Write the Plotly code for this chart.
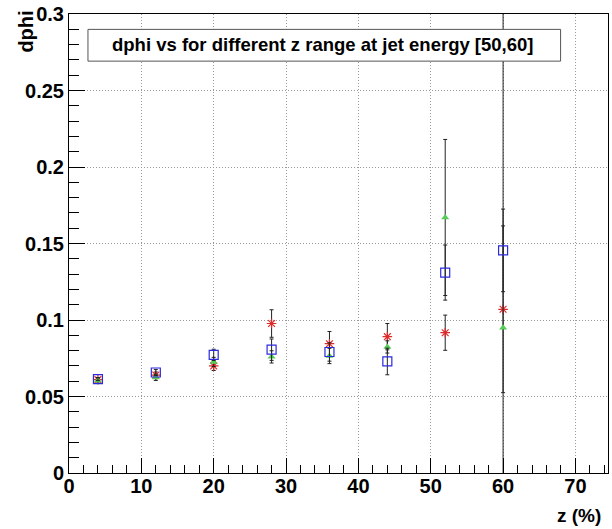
import plotly.graph_objects as go

z_vals = [4, 12, 20, 28, 36, 44, 52, 60]

red_vals = [0.061, 0.064, 0.070, 0.0977, 0.0845, 0.0891, 0.0917, 0.107]
red_errs = [0.001, 0.002, 0.003, 0.009, 0.008, 0.0086, 0.0115, 0.0545]

green_vals = [0.0605, 0.0625, 0.0726, 0.0759, 0.0765, 0.0824, 0.167, 0.095]
green_errs = [0.001, 0.002, 0.003, 0.004, 0.005, 0.004, 0.051, 0.25]

blue_vals = [0.0614, 0.0657, 0.0772, 0.0806, 0.0791, 0.0729, 0.131, 0.1455]
blue_errs = [0.001, 0.002, 0.0037, 0.007, 0.006, 0.0087, 0.018, 0.027]

title_text = "dphi vs for different z range at jet energy [50,60]"
x_title = "z (%)"
y_title = "dphi"

FONT = "Liberation Sans, Arial, Helvetica, sans-serif"

# plot frame in pixels
L, R, T, B = 69, 609, 10.5, 473
W, H = 612, 529
pw, ph = R - L, B - T


def px_x(p):
    return (p - L) / pw


def px_y(p):
    return (B - p) / ph


fig = go.Figure()

def add_series(vals, errs, symbol, color, size, lw):
    fig.add_trace(go.Scatter(
        x=z_vals, y=vals, mode="markers",
        marker=dict(symbol=symbol, size=size, color=color,
                    line=dict(color=color, width=lw)),
        error_y=dict(type="data", array=errs, visible=True,
                     color="#222222", thickness=1, width=2),
        showlegend=False,
    ))

add_series(red_vals, red_errs, "asterisk-open", "#e02a2a", 8, 1.2)
add_series(green_vals, green_errs, "triangle-up", "#55cc55", 7, 0)
add_series(blue_vals, blue_errs, "square-open", "#2a2ae0", 9, 1.2)

grid_dash = "1px,2px"
grid_col = "#999999"

fig.update_layout(
    width=W, height=H,
    margin=dict(l=L, r=W - R, t=T, b=H - B),
    paper_bgcolor="white", plot_bgcolor="white",
    font=dict(family=FONT, color="black"),
    xaxis=dict(
        range=[0, 74.5], dtick=10, tick0=0,
        ticks="inside", ticklen=15, tickwidth=1, tickcolor="black",
        minor=dict(dtick=2, ticks="inside", ticklen=8, tickcolor="black", tickwidth=1),
        showline=True, linecolor="black", linewidth=1, mirror=True,
        showgrid=True, gridcolor=grid_col, griddash=grid_dash, gridwidth=1,
        zeroline=False,
        tickfont=dict(family=FONT, size=20, weight="bold", color="black"),
        ticklabelstandoff=-5,
    ),
    yaxis=dict(
        range=[0, 0.3], dtick=0.05, tick0=0,
        ticks="inside", ticklen=16, tickwidth=1, tickcolor="black",
        minor=dict(dtick=0.01, ticks="inside", ticklen=10, tickcolor="black", tickwidth=1),
        showline=True, linecolor="black", linewidth=1, mirror=True,
        showgrid=True, gridcolor=grid_col, griddash=grid_dash, gridwidth=1,
        zeroline=False,
        tickfont=dict(family=FONT, size=20, weight="bold", color="black"),
        ticklabelstandoff=0,
    ),
    shapes=[dict(
        type="rect", xref="paper", yref="paper",
        x0=px_x(88), x1=px_x(561.5), y0=px_y(58), y1=px_y(26),
        line=dict(color="#555555", width=1), fillcolor="white", layer="above",
    )],
    annotations=[
        dict(text=title_text, xref="paper", yref="paper",
             x=px_x(323.5), y=px_y(41.5), xanchor="center", yanchor="middle",
             showarrow=False, font=dict(family=FONT, size=18.5, weight="bold", color="black")),
        dict(text=y_title, xref="paper", yref="paper", textangle=-90,
             x=px_x(25), y=px_y(5), xanchor="center", yanchor="top",
             showarrow=False, font=dict(family=FONT, size=20, weight="bold", color="black")),
        dict(text=x_title, xref="paper", yref="paper",
             x=px_x(604), y=px_y(516), xanchor="right", yanchor="middle",
             showarrow=False, font=dict(family=FONT, size=19, weight="bold", color="black")),
    ],
)

fig.write_html("out.html")
